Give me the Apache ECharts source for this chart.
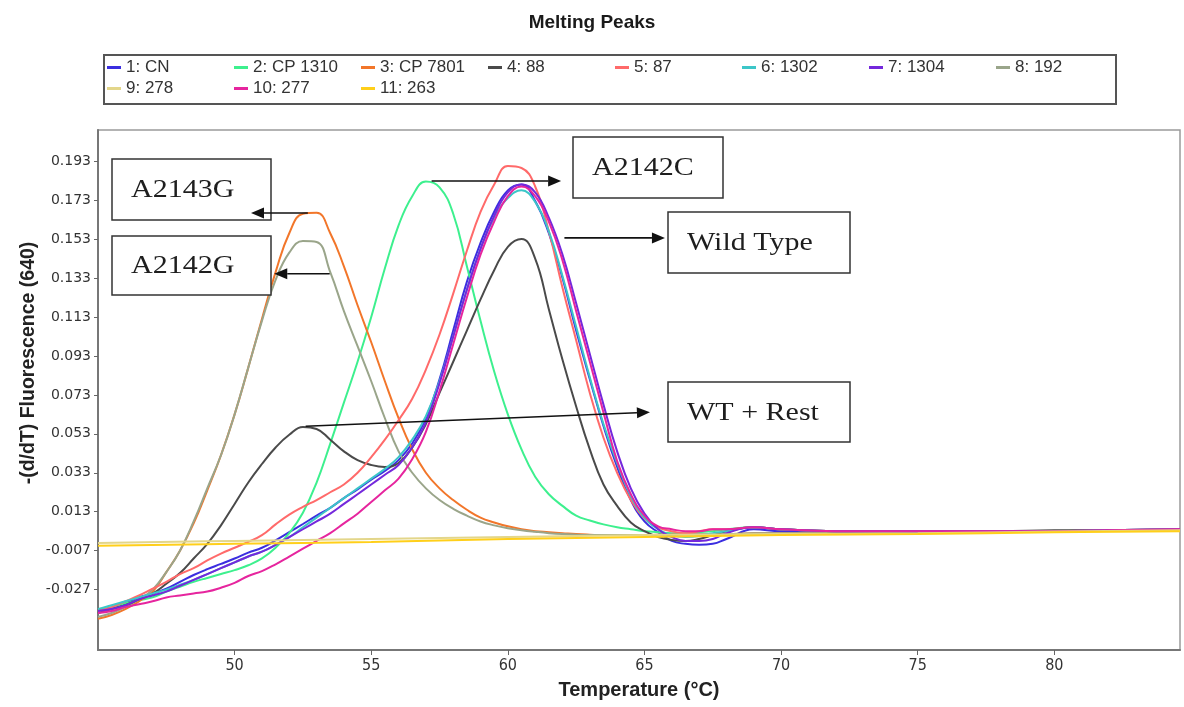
<!DOCTYPE html>
<html>
<head>
<meta charset="utf-8">
<script src="https://cdn.jsdelivr.net/npm/echarts@6/dist/echarts.min.js"></script>
<style>html,body{margin:0;padding:0;background:#fff}#c{width:1184px;height:707px}</style>
</head>
<body>
<div id="c"></div>
<script>
// ---- data ----
const temps = [45,45.5,46,46.5,47,47.5,48,48.5,49,49.5,50,50.5,51,51.5,52,52.5,53,53.5,54,54.5,55,55.5,56,56.5,57,57.5,58,58.5,59,59.5,60,60.5,61,61.5,62,62.5,63,63.5,64,64.5,65,65.5,66,66.5,67,67.5,68,69,70,72,75,78,80,82,84.6];
const flatTemps = [45,50,55,60,65,70,75,80,84.6];
const xTicks = [50,55,60,65,70,75,80];
const yTicks = [-0.027,-0.007,0.013,0.033,0.053,0.073,0.093,0.113,0.133,0.153,0.173,0.193];

const cn = [-0.0375,-0.0365,-0.034,-0.031,-0.029,-0.0265,-0.023,-0.0195,-0.0165,-0.0138,
 -0.011,-0.008,-0.0055,-0.0017,0.0025,0.0067,0.011,0.015,0.020,0.0245,
 0.0295,0.034,0.0395,0.048,0.061,0.081,0.106,0.131,0.151,0.167,
 0.178,0.181,0.1725,0.156,0.133,0.106,0.081,0.057,0.036,0.019,
 0.008,0.0025,-0.002,-0.0035,-0.004,-0.0035,-0.001,
 0.004,0.003,0.003,0.0025,0.003,0.003,0.0035,0.004];
const cp1310 = [-0.037,-0.036,-0.034,-0.0325,-0.031,-0.028,-0.0255,-0.023,-0.021,-0.019,
 -0.017,-0.0145,-0.011,-0.0055,0.002,0.0125,0.028,0.048,0.069,0.090,
 0.113,0.138,0.160,0.175,0.1825,0.1795,0.166,0.139,0.111,0.085,
 0.063,0.045,0.031,0.022,0.016,0.011,0.0085,0.0065,0.005,0.004,
 0.003,0.0025,0.002,0.002,0.0025,0.003,0.004,
 0.005,0.004,0.003,0.003,0.003,0.003,0.0035,0.004];
const cp7801 = [-0.042,-0.040,-0.037,-0.033,-0.028,-0.018,-0.007,0.007,0.024,0.042,
 0.063,0.087,0.112,0.136,0.156,0.166,0.1665,0.156,0.139,0.119,
 0.100,0.080,0.061,0.045,0.033,0.025,0.019,0.014,0.010,0.0075,
 0.0055,0.004,0.003,0.0025,0.002,0.0015,0.0012,0.001,0.001,0.001,
 0.001,0.0012,0.0013,0.0014,0.0015,0.0015,0.0015,
 0.002,0.002,0.002,0.0025,0.003,0.003,0.0035,0.0035];
const s88 = [-0.039,-0.037,-0.035,-0.032,-0.029,-0.024,-0.0185,-0.011,-0.0035,0.006,
 0.017,0.028,0.0375,0.046,0.0525,0.0565,0.0555,0.050,0.044,0.0395,
 0.037,0.036,0.038,0.046,0.058,0.074,0.090,0.106,0.122,0.137,
 0.149,0.153,0.143,0.117,0.091,0.067,0.045,0.027,0.016,0.0075,
 0.003,0.0,-0.0015,-0.002,-0.001,0.001,0.003,
 0.005,0.004,0.003,0.003,0.003,0.0035,0.0035,0.004];
const s87 = [-0.038,-0.036,-0.033,-0.030,-0.0265,-0.023,-0.019,-0.016,-0.012,-0.0085,
 -0.0055,-0.0025,0.001,0.0065,0.0115,0.0155,0.019,0.023,0.027,0.033,
 0.041,0.050,0.060,0.071,0.086,0.104,0.125,0.147,0.167,0.181,
 0.1905,0.1895,0.180,0.157,0.128,0.101,0.074,0.051,0.033,0.019,
 0.0095,0.005,0.003,0.002,0.003,0.004,0.004,
 0.005,0.004,0.003,0.003,0.003,0.003,0.0035,0.004];
const s1302 = [-0.037,-0.035,-0.033,-0.031,-0.029,-0.027,-0.0245,-0.022,-0.019,-0.016,
 -0.013,-0.010,-0.0075,-0.004,0.0,0.005,0.010,0.015,0.020,0.025,
 0.030,0.035,0.041,0.050,0.062,0.080,0.103,0.127,0.148,0.164,
 0.174,0.178,0.172,0.157,0.134,0.108,0.082,0.058,0.038,0.021,
 0.010,0.004,0.001,0.0,0.0005,0.002,0.003,
 0.005,0.004,0.003,0.003,0.003,0.003,0.0035,0.004];
const s1304 = [-0.038,-0.037,-0.035,-0.032,-0.030,-0.028,-0.025,-0.022,-0.019,-0.016,
 -0.013,-0.010,-0.0075,-0.004,0.0,0.004,0.008,0.012,0.017,0.022,
 0.027,0.032,0.037,0.046,0.059,0.079,0.103,0.127,0.148,0.165,
 0.177,0.181,0.177,0.164,0.145,0.120,0.094,0.068,0.044,0.025,
 0.012,0.004,0.0,-0.002,-0.002,-0.001,0.002,
 0.005,0.004,0.003,0.003,0.003,0.003,0.0035,0.004];
const s192 = [-0.041,-0.039,-0.036,-0.032,-0.027,-0.018,-0.007,0.008,0.025,0.042,
 0.063,0.087,0.111,0.132,0.146,0.152,0.1515,0.136,0.116,0.098,
 0.080,0.061,0.044,0.033,0.025,0.019,0.0145,0.011,0.008,0.006,
 0.0045,0.0035,0.0027,0.002,0.0015,0.0012,0.001,0.001,0.001,0.001,
 0.001,0.0012,0.0013,0.0014,0.0015,0.0015,0.0015,
 0.002,0.002,0.002,0.0025,0.003,0.003,0.0035,0.0035];
const s278 = [-0.003,-0.002,-0.001,0.0,0.001,0.0015,0.002,0.0028,0.0035];
const s277 = [-0.039,-0.038,-0.036,-0.0345,-0.033,-0.031,-0.030,-0.029,-0.028,-0.026,
 -0.0235,-0.020,-0.0175,-0.014,-0.010,-0.006,-0.002,0.002,0.007,0.012,
 0.018,0.024,0.030,0.040,0.054,0.075,0.099,0.123,0.145,0.162,
 0.175,0.180,0.175,0.162,0.142,0.116,0.090,0.064,0.039,0.022,
 0.011,0.0055,0.004,0.003,0.003,0.004,0.004,
 0.005,0.004,0.003,0.003,0.003,0.003,0.0035,0.004];
const s263 = [-0.0045,-0.0035,-0.0025,-0.001,0.0,0.001,0.0015,0.0025,0.003];

const seriesNames = ['1: CN','2: CP 1310','3: CP 7801','4: 88','5: 87','6: 1302','7: 1304','8: 192','9: 278','10: 277','11: 263'];

// annotations: label texts, arrows in data coordinates
const annoLabels = ['A2143G','A2142G','A2142C','Wild Type','WT + Rest'];
const arrowFrom = [[52.68,0.1664],[53.48,0.1352],[57.21,0.1828],[62.07,0.1536],[52.60,0.0569]];
const arrowTo   = [[50.6,0.1664],[51.45,0.1352],[61.95,0.1828],[65.75,0.1536],[65.2,0.0641]];

// ---- layout / style ----
const boxes = [
  {x:112,y:159,w:159,h:61},
  {x:112,y:236,w:159,h:59},
  {x:573,y:137,w:150,h:61},
  {x:668,y:212,w:182,h:61},
  {x:668,y:382,w:182,h:60}
];
const styleDefs = [
  {vals:cn, t:temps, color:'#3b2ee0'},
  {vals:cp1310, t:temps, color:'#3df08e'},
  {vals:cp7801, t:temps, color:'#f2762a'},
  {vals:s88, t:temps, color:'#4a4a4a'},
  {vals:s87, t:temps, color:'#ff6a6a'},
  {vals:s1302, t:temps, color:'#3cc6c8'},
  {vals:s1304, t:temps, color:'#7428dc'},
  {vals:s192, t:temps, color:'#9aa58a'},
  {vals:s278, t:flatTemps, color:'#e3d68a'},
  {vals:s277, t:temps, color:'#e6259e'},
  {vals:s263, t:flatTemps, color:'#ffcf1a'}
];
const drawOrder = [0,1,2,7,3,4,5,6,9,8,10];

const chart = echarts.init(document.getElementById('c'));
const series = drawOrder.map(i => {
  const d = styleDefs[i];
  return {
    name: seriesNames[i], type:'line', showSymbol:false, smooth:0.45,
    data: d.t.map((x,k)=>[x, d.vals[k]]),
    lineStyle:{width:2, color:d.color}, itemStyle:{color:d.color},
    emphasis:{disabled:true}, z: 2
  };
});

const legendCommon = {
  left:107, padding:0, itemWidth:14, itemHeight:3, itemGap:4, icon:'rect', selectedMode:false,
  textStyle:{fontFamily:'Liberation Sans', fontSize:17, color:'#333', width:104, lineHeight:19}
};

chart.setOption({
  animation:false,
  backgroundColor:'#fff',
  title:{text:'Melting Peaks', left:'center', top:8,
    textStyle:{fontFamily:'Liberation Sans', fontWeight:'bold', fontSize:19, color:'#1a1a1a'}},
  legend:[
    Object.assign({top:58, data:seriesNames.slice(0,8)}, legendCommon),
    Object.assign({top:79, data:seriesNames.slice(8)}, legendCommon)
  ],
  grid:{left:98, right:4, top:130, bottom:57, show:true, borderColor:'#9a9a9a', borderWidth:1.5},
  xAxis:{
    type:'value', min:45, max:84.6,
    name:'Temperature (°C)', nameLocation:'middle', nameGap:30,
    nameTextStyle:{fontFamily:'Liberation Sans', fontWeight:'bold', fontSize:20, color:'#222'},
    axisLine:{onZero:false, lineStyle:{color:'#777', width:2}},
    axisTick:{show:true, customValues:xTicks, length:5, lineStyle:{color:'#666'}},
    axisLabel:{customValues:xTicks, margin:8, fontFamily:'Liberation Sans Narrow, DejaVu Sans Condensed', fontSize:16, color:'#333'},
    splitLine:{show:false}
  },
  yAxis:{
    type:'value', min:-0.058, max:0.209,
    name:'-(d/dT) Fluorescence (640)', nameLocation:'middle', nameGap:59, nameMoveOverlap:false,
    nameTextStyle:{fontFamily:'Liberation Sans', fontWeight:'bold', fontSize:19.5, color:'#222', padding:[0,0,0,54]},
    axisLine:{show:true, onZero:false, lineStyle:{color:'#777', width:2}},
    axisTick:{show:true, customValues:yTicks, length:4, lineStyle:{color:'#666'}},
    axisLabel:{customValues:yTicks, margin:7, fontFamily:'DejaVu Sans', fontSize:14, color:'#333',
      formatter: v => v.toFixed(3)},
    splitLine:{show:false}
  },
  series: series
});

// graphics: legend frame, label boxes, arrows
const g = [];
g.push({type:'rect', z:10, shape:{x:104, y:55, width:1012, height:49},
  style:{fill:null, stroke:'#555', lineWidth:2}});
boxes.forEach((b,i) => {
  g.push({type:'rect', z:20, shape:{x:b.x, y:b.y, width:b.w, height:b.h},
    style:{fill:'#fff', stroke:'#333', lineWidth:1.5}});
  g.push({type:'text', z:21, x:b.x+19, y:b.y+b.h/2+1, scaleX:1.2,
    style:{text:annoLabels[i], font:'25px "Liberation Serif"', fill:'#1e1e1e', verticalAlign:'middle'}});
});
arrowFrom.forEach((p,i) => {
  const a = chart.convertToPixel({gridIndex:0}, p);
  const b = chart.convertToPixel({gridIndex:0}, arrowTo[i]);
  const dx = b[0]-a[0], dy = b[1]-a[1], L = Math.hypot(dx,dy), ux = dx/L, uy = dy/L;
  const hl = 13, hw = 5.5;
  const bx = b[0]-ux*hl, by = b[1]-uy*hl;
  g.push({type:'line', z:30, shape:{x1:a[0], y1:a[1], x2:bx, y2:by}, style:{stroke:'#111', lineWidth:1.6}});
  g.push({type:'polygon', z:31, shape:{points:[[b[0],b[1]],[bx-uy*hw, by+ux*hw],[bx+uy*hw, by-ux*hw]]},
    style:{fill:'#111'}});
});
chart.setOption({graphic:g});
</script>
</body>
</html>
